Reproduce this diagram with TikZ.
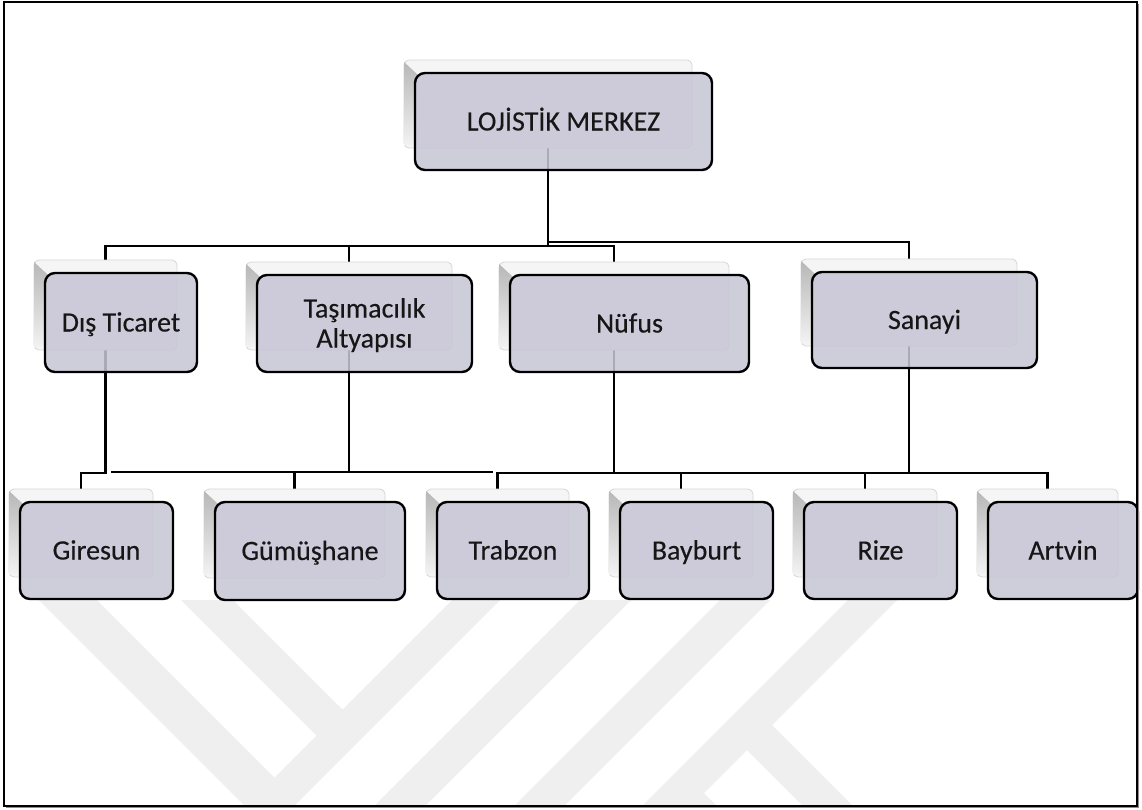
\documentclass[tikz,border=0pt]{standalone}
\usepackage{fontspec}
\setmainfont{Carlito}
\newfontfamily\boxfont{Carlito}[FakeBold=0.3]
\usetikzlibrary{calc}

\definecolor{facefill}{RGB}{199,197,213}
\definecolor{markgray}{RGB}{239,239,239}
\definecolor{inktext}{RGB}{22,22,22}

\pgfdeclarelayer{paper}
\pgfdeclarelayer{mark}
\pgfdeclarelayer{wires}
\pgfsetlayers{paper,mark,wires,main}

\tikzset{
  conn/.style={draw=black, line width=2.3pt, line cap=rect},
  ghostbox/.style={draw=black!16, line width=0.8pt, fill=black!4,
    rounded corners=5pt, inner sep=0pt, outer sep=0pt},
  facebox/.style={draw=black, line width=2.4pt, fill=facefill,
    fill opacity=0.86, text opacity=1, rounded corners=10pt,
    inner sep=0pt, outer sep=0pt, text=inktext,
    font=\boxfont\fontsize{28}{30}\selectfont, align=center},
  bevel/.style={top color=black!28, bottom color=black!5},
  frame/.style={draw=black, line width=2pt},
  markband/.style={fill=markgray},
}

% line strut: keeps the capitals centred in the box whatever the letters
\newcommand\ls{\rule[-6pt]{0pt}{30pt}}

% one chart box: #1 name, #2-#5 corners of the front face (x0,y0,x1,y1), #6 label
\newcommand\orgbox[6]{%
  \node[ghostbox, minimum width={#4-#2-9}, minimum height={#5-#3-9}]
    (#1g) at ({(#2+#4)/2-15.5},{(#3+#5)/2-17.5}) {};
  \shade[bevel] (#2-11,#3-11) -- (#2+2,#3+1) -- (#2+2,#5-25) -- (#2-11,#5-25) -- cycle;
  \node[facebox, minimum width={#4-#2}, minimum height={#5-#3}]
    (#1) at ({(#2+#4)/2},{(#3+#5)/2}) {#6};
}

\begin{document}
\begin{tikzpicture}[x=1pt,y=-1pt]
\useasboundingbox (0,0) rectangle (1142,809);
\begin{pgfonlayer}{paper}
  \fill[white] (0,0) rectangle (1142,809);
\end{pgfonlayer}

% faint emblem in the lower part of the page
\begin{pgfonlayer}{mark}
  \begin{scope}
    \clip (5,600) rectangle (1136,805);
    \fill[markband] (452,600) -- (500,600) -- (270,830) -- (222,830) -- cycle;
    \fill[markband] (39,600) -- (97,600) -- (274.5,777.5) -- (269.5,830.5) -- cycle;
    \fill[markband] (181,600) -- (233,600) -- (351.5,718.5) -- (325.5,744.5) -- cycle;
    \fill[markband] (580,600) -- (631,600) -- (401,830) -- (350,830) -- cycle;
    \fill[markband] (720,600) -- (770,600) -- (540,830) -- (490,830) -- cycle;
    \fill[markband] (848,600) -- (897,600) -- (667,830) -- (618,830) -- cycle;
    \fill[markband] (738.5,741.5) -- (763.5,716.5) -- (877,830) -- (827,830) -- cycle;
    \fill[markband] (704,793) -- (741,830) -- (667,830) -- cycle;
  \end{scope}
\end{pgfonlayer}

% boxes
\orgbox{root}{415}{73}{712}{170}{\ls LOJİSTİK MERKEZ}

\orgbox{dis}{45}{273}{197}{372}{\ls Dış Ticaret}
\orgbox{tas}{257}{275}{472}{372}{\ls Taşımacılık\\\ls Altyapısı}
\orgbox{nuf}{510}{275}{749}{372}{\ls Nüfus}
\orgbox{san}{812}{272}{1037}{368}{\ls Sanayi}

\orgbox{gir}{20}{502}{173}{599}{\ls Giresun}
\orgbox{gum}{215}{502}{405}{600}{\ls Gümüşhane}
\orgbox{tra}{437}{502}{589}{599}{\ls Trabzon}
\orgbox{bay}{620}{502}{773}{599}{\ls Bayburt}
\orgbox{riz}{804}{502}{957}{599}{\ls Rize}
\orgbox{art}{988}{502}{1138}{599}{\ls Artvin}

% connectors
\begin{pgfonlayer}{wires}
  \coordinate (j0) at (548,246);
  \coordinate (j0r) at (548,242);
  \draw[conn] (rootg.south) -- (j0);
  \draw[conn] (j0) -| (disg.north);
  \draw[conn] (j0) -| (tasg.north);
  \draw[conn] (j0) -| (nufg.north);
  \draw[conn] (j0r) -| (sang.north);

  \coordinate (j1) at (105.5,473);
  \draw[conn] (disg.south) -- (j1) -| (girg.north);

  \coordinate (j2) at (349,472);
  \coordinate (t1) at (112,472);
  \coordinate (t2) at (492,472);
  \draw[conn] (t1) -- (t2);
  \draw[conn] (tasg.south) -- (j2) -| (gumg.north);

  \coordinate (j3) at (614,473);
  \coordinate (j4) at (909,473);
  \draw[conn] (nufg.south) -- (j3);
  \draw[conn] (trag.north) |- (j4);
  \draw[conn] (bayg.north) |- (j3);
  \draw[conn] (sang.south) -- (j4) -| (artg.north);
  \draw[conn] (rizg.north) |- (j4);
\end{pgfonlayer}

% page frame
\draw[black!45, line width=1pt] (6,807.5) -- (1138.6,807.5) -- (1138.6,4);
\draw[frame] (4,2) rectangle (1137,806);
\end{tikzpicture}
\end{document}
